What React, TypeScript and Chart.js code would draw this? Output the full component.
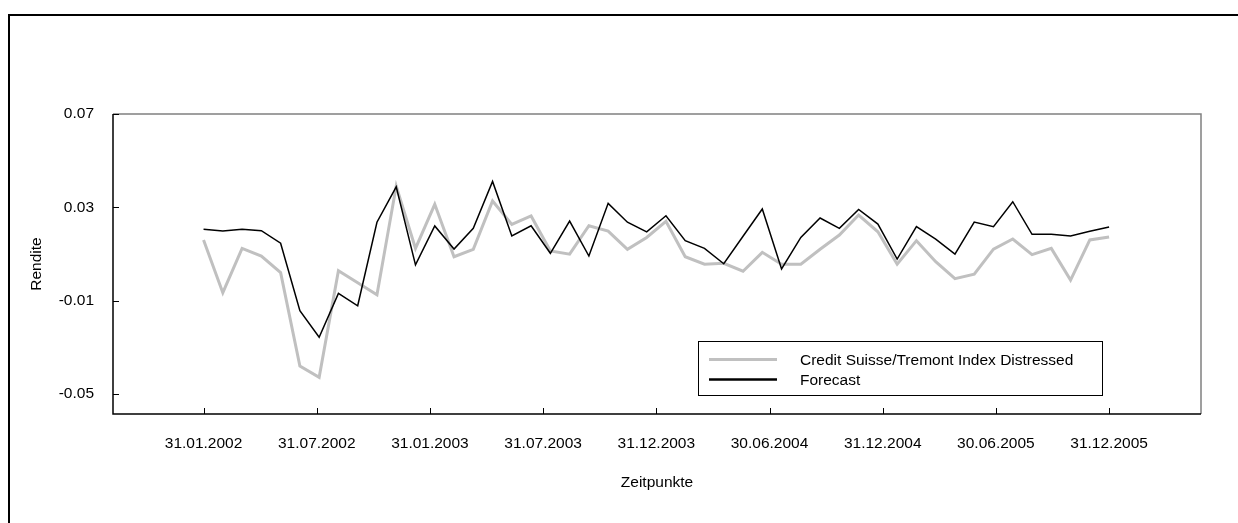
import { useEffect, useRef } from "react";
import { Chart, registerables } from "chart.js";

Chart.register(...registerables);

const xTickLabels = [
  "31.01.2002",
  "31.07.2002",
  "31.01.2003",
  "31.07.2003",
  "31.12.2003",
  "30.06.2004",
  "31.12.2004",
  "30.06.2005",
  "31.12.2005",
];

const yTickValues = [0.07, 0.03, -0.01, -0.05];

const distressed = [
  0.016, -0.0066, 0.0124, 0.0091, 0.002, -0.038, -0.0429, 0.0028, -0.0023, -0.0075,
  0.0391, 0.0124, 0.0313, 0.0088, 0.012, 0.0327, 0.0227, 0.0263, 0.0113, 0.0099,
  0.0221, 0.0198, 0.012, 0.0171, 0.024, 0.0088, 0.0056, 0.006, 0.0026, 0.0107,
  0.0056, 0.0056, 0.012, 0.0181, 0.0267, 0.0195, 0.0056, 0.0157, 0.0067, -0.0006,
  0.0013, 0.0121, 0.0164, 0.0097, 0.0124, -0.0012, 0.016, 0.0173,
];

const forecast = [
  0.0206, 0.0198, 0.0206, 0.02, 0.0146, -0.0143, -0.0257, -0.0069, -0.0122, 0.0236,
  0.0388, 0.0053, 0.022, 0.0121, 0.021, 0.0411, 0.0177, 0.0221, 0.0103, 0.0241,
  0.0091, 0.0317, 0.0236, 0.0195, 0.0264, 0.0157, 0.0124, 0.0058, 0.0176, 0.0293,
  0.0036, 0.0171, 0.0254, 0.021, 0.0291, 0.0228, 0.0078, 0.0217, 0.0164, 0.0099,
  0.0237, 0.0217, 0.0324, 0.0184, 0.0184, 0.0177, 0.0197, 0.0216,
];

const seriesNames = ["Credit Suisse/Tremont Index Distressed", "Forecast"];
const xTitle = "Zeitpunkte";
const yTitle = "Rendite";

const FONT = "'Liberation Sans', Arial, sans-serif";
const FS = 15.5;
const GRAY = "#c0c0c0";

export default function App() {
  const ref = useRef<HTMLCanvasElement | null>(null);

  useEffect(() => {
    if (!ref.current) return;
    const lastIndex = distressed.length - 1;
    const tickPositions = xTickLabels.map((_, i) => (i * lastIndex) / (xTickLabels.length - 1));

    const decor = {
      id: "decor",
      afterDraw(chart: any) {
        const ctx = chart.ctx as CanvasRenderingContext2D;
        const a = chart.chartArea;
        const xs = chart.scales.x;
        const ys = chart.scales.y;
        ctx.save();
        // top & right gray border
        ctx.strokeStyle = "#808080";
        ctx.lineWidth = 1.5;
        ctx.beginPath();
        ctx.moveTo(a.left, a.top);
        ctx.lineTo(a.right, a.top);
        ctx.lineTo(a.right, a.bottom);
        ctx.stroke();
        // left & bottom axis
        ctx.strokeStyle = "#000";
        ctx.lineWidth = 1.5;
        ctx.beginPath();
        ctx.moveTo(a.left, a.top);
        ctx.lineTo(a.left, a.bottom);
        ctx.lineTo(a.right, a.bottom);
        ctx.stroke();
        // inward ticks
        ctx.lineWidth = 1;
        ctx.beginPath();
        tickPositions.forEach((v) => {
          const px = Math.round(xs.getPixelForValue(v)) + 0.5;
          ctx.moveTo(px, a.bottom);
          ctx.lineTo(px, a.bottom - 6);
        });
        yTickValues.forEach((v) => {
          const py = Math.round(ys.getPixelForValue(v)) + 0.5;
          ctx.moveTo(a.left, py);
          ctx.lineTo(a.left + 6, py);
        });
        ctx.stroke();
        // axis titles
        ctx.fillStyle = "#000";
        ctx.font = `${FS}px ${FONT}`;
        ctx.textAlign = "center";
        ctx.textBaseline = "middle";
        ctx.fillText(xTitle, (a.left + a.right) / 2, 483);
        ctx.save();
        ctx.translate(37, (a.top + a.bottom) / 2);
        ctx.rotate(-Math.PI / 2);
        ctx.fillText(yTitle, 0, 0);
        ctx.restore();
        // legend
        ctx.strokeStyle = "#000";
        ctx.lineWidth = 1;
        ctx.strokeRect(698.5, 341.5, 404, 54);
        ctx.lineWidth = 3;
        ctx.strokeStyle = GRAY;
        ctx.beginPath();
        ctx.moveTo(709, 359.5);
        ctx.lineTo(777, 359.5);
        ctx.stroke();
        ctx.lineWidth = 2.5;
        ctx.strokeStyle = "#000";
        ctx.beginPath();
        ctx.moveTo(709, 379.5);
        ctx.lineTo(777, 379.5);
        ctx.stroke();
        ctx.textAlign = "left";
        ctx.fillText(seriesNames[0], 800, 360.5);
        ctx.fillText(seriesNames[1], 800, 380.5);
        ctx.restore();
      },
    };

    const chart = new Chart(ref.current, {
      type: "line",
      data: {
        datasets: [
          {
            label: seriesNames[1],
            data: forecast.map((v, i) => ({ x: i, y: v })),
            borderColor: "#000",
            borderWidth: 1.5,
            pointRadius: 0,
            tension: 0,
            order: 0,
          },
          {
            label: seriesNames[0],
            data: distressed.map((v, i) => ({ x: i, y: v })),
            borderColor: GRAY,
            borderWidth: 3,
            pointRadius: 0,
            tension: 0,
            order: 1,
          },
        ],
      },
      options: {
        responsive: false,
        animation: false,
        devicePixelRatio: 1,
        layout: { padding: { left: 0, top: 114, right: 37, bottom: 0 } },
        plugins: { legend: { display: false }, tooltip: { enabled: false } },
        scales: {
          x: {
            type: "linear",
            min: -4.7,
            max: 51.77,
            afterFit: (s: any) => {
              s.height = 109;
            },
            afterBuildTicks: (s: any) => {
              s.ticks = tickPositions.map((v) => ({ value: v }));
            },
            grid: { display: false, drawTicks: false },
            border: { display: false },
            ticks: {
              autoSkip: false,
              maxRotation: 0,
              padding: 20,
              color: "#000",
              font: { family: FONT, size: FS },
              callback: (_v: any, i: number) => xTickLabels[i],
            },
          },
          y: {
            type: "linear",
            min: -0.0586,
            max: 0.07,
            afterFit: (s: any) => {
              s.width = 113;
            },
            afterBuildTicks: (s: any) => {
              s.ticks = yTickValues.map((v) => ({ value: v }));
            },
            grid: { display: false, drawTicks: false },
            border: { display: false },
            ticks: {
              padding: 19,
              color: "#000",
              font: { family: FONT, size: FS },
              callback: (v: any) => Number(v).toFixed(2),
            },
          },
        },
      },
      plugins: [decor],
    } as any);
    return () => chart.destroy();
  }, []);

  return (
    <div
      style={{
        position: "fixed",
        left: 0,
        top: 0,
        width: 1238,
        height: 523,
        background: "#fff",
        overflow: "hidden",
      }}
    >
      <div
        style={{
          position: "absolute",
          left: 8,
          top: 14,
          right: 0,
          bottom: 0,
          borderLeft: "2px solid #000",
          borderTop: "2px solid #000",
        }}
      />
      <canvas
        ref={ref}
        width={1238}
        height={523}
        style={{ position: "absolute", left: 0, top: 0, width: 1238, height: 523 }}
      />
    </div>
  );
}
